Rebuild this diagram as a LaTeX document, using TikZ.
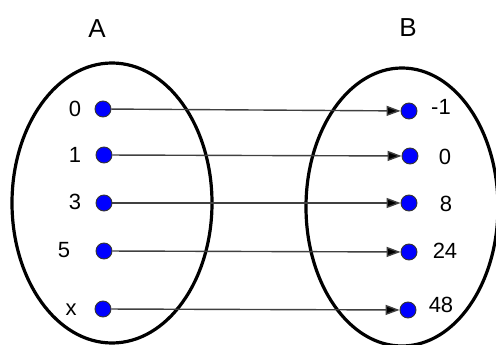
\documentclass[tikz,border=0pt]{standalone}
\usepackage{fontspec}
\setmainfont{Liberation Sans}
\usetikzlibrary{arrows.meta}

\begin{document}
\begin{tikzpicture}[x=1pt,y=-1pt,>={Triangle[length=14pt,width=10pt]},
		dot/.style={circle,draw=black!80,fill=blue,line width=0.9pt,inner sep=0pt,minimum size=16pt},
		val/.style={font=\fontsize{22}{22}\selectfont,inner sep=0pt},
		setname/.style={font=\fontsize{26}{26}\selectfont,inner sep=0pt},
		setring/.style={draw=black,line width=3.2pt}]
		\useasboundingbox (0,0) rectangle (496,345);
		\draw[setring] (112,203) ellipse (100 and 140);
		\draw[setring] (402,207) ellipse (96 and 139);
		
		\node[setname] (A) at (97,29) {A};
		\node[setname] (B) at (408,28) {B};
		
		\node[dot] (a1) at (103,109) {};
		\node[dot] (a2) at (104,155) {};
		\node[dot] (a3) at (104,203) {};
		\node[dot] (a4) at (104,251) {};
		\node[dot] (a5) at (103,309) {};
		
		\node[dot] (b1) at (409,111) {};
		\node[dot] (b2) at (410,156) {};
		\node[dot] (b3) at (409,203) {};
		\node[dot] (b4) at (409,252) {};
		\node[dot] (b5) at (408,310) {};
		
		\node[val] (la1) at (75,109) {0};
		\node[val] (la2) at (75,155) {1};
		\node[val] (la3) at (75,202) {3};
		\node[val] (la4) at (64,250) {5};
		\node[val] (la5) at (71,310) {x};
		
		\node[val] (lb1) at (441,107) {-1};
		\node[val] (lb2) at (445,157) {0};
		\node[val] (lb3) at (446,204) {8};
		\node[val] (lb4) at (445,251) {24};
		\node[val] (lb5) at (441,305) {48};
		
		\path[->,draw=black!75,line width=1.4pt]
		(a1) edge (b1)
		(a2) edge (b2)
		(a3) edge (b3)
		(a4) edge (b4)
		(a5) edge (b5);
\end{tikzpicture}
\end{document}
